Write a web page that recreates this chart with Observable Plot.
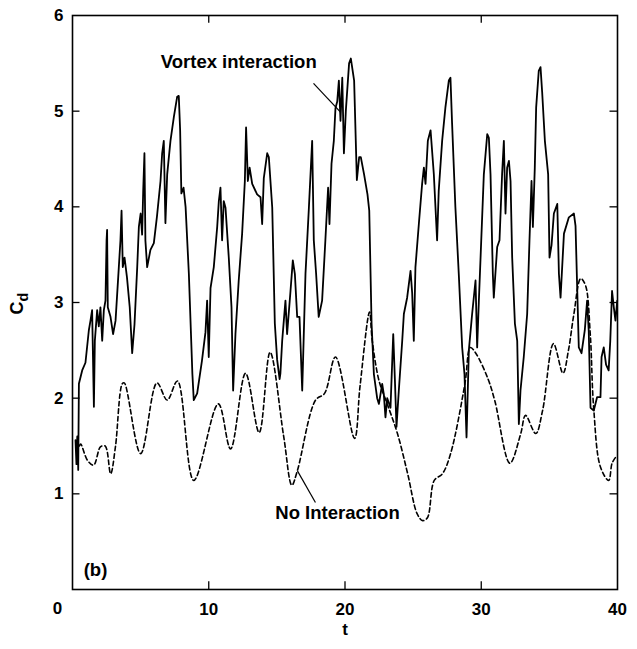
<!DOCTYPE html>
<html>
<head>
<meta charset="utf-8">
<script src="https://cdn.jsdelivr.net/npm/d3@7"></script>
<script src="https://cdn.jsdelivr.net/npm/@observablehq/plot@0.6"></script>
<style>
  html, body { margin: 0; padding: 0; background: #fff; }
  #chart svg { display: block; }
</style>
</head>
<body>
<div id="chart"></div>
<script>
// ---- Data ----
const vortexT = [0.22,0.29,0.35,0.39,0.42,0.47,0.71,0.95,1.2,1.32,1.44,1.57,1.64,1.81,1.93,2.05,2.18,2.3,2.42,2.5,2.54,2.59,2.79,2.98,3.16,3.4,3.52,3.6,3.69,3.82,4.0,4.2,4.38,4.55,4.75,4.87,5.0,5.11,5.19,5.28,5.35,5.48,5.72,5.97,6.2,6.46,6.58,6.7,6.82,6.95,7.19,7.44,7.68,7.8,7.9,7.99,8.15,8.3,8.54,8.8,8.9,9.15,9.5,9.76,9.88,10.0,10.13,10.37,10.62,10.74,10.86,10.98,11.1,11.23,11.47,11.67,11.79,11.96,12.2,12.45,12.65,12.74,12.87,13.0,13.19,13.55,13.8,13.92,14.04,14.29,14.41,14.66,14.85,15.02,15.2,15.26,15.39,15.51,15.63,15.75,16.0,16.17,16.32,16.49,16.66,16.86,17.1,17.35,17.59,17.71,17.88,18.07,18.32,18.56,18.76,18.86,19.01,19.18,19.3,19.43,19.55,19.67,19.8,19.92,20.06,20.3,20.43,20.67,20.87,21.04,21.16,21.4,21.65,21.78,21.95,22.12,22.36,22.49,22.73,22.85,22.97,23.1,23.34,23.54,23.66,23.78,23.95,24.2,24.32,24.56,24.81,24.93,25.05,25.17,25.42,25.66,25.79,25.91,26.08,26.28,26.52,26.76,26.88,27.13,27.37,27.62,27.74,27.86,28.1,28.35,28.6,28.77,28.92,29.09,29.33,29.58,29.7,29.82,29.95,30.19,30.44,30.56,30.68,30.85,30.92,31.17,31.34,31.53,31.66,31.78,31.9,32.03,32.15,32.27,32.47,32.64,32.76,32.88,33.12,33.37,33.54,33.69,33.79,33.93,34.03,34.22,34.35,34.47,34.67,34.91,35.01,35.16,35.33,35.58,35.7,35.82,36.07,36.43,36.8,36.92,37.04,37.16,37.36,37.6,37.77,37.89,38.02,38.26,38.5,38.75,38.83,38.99,39.16,39.35,39.47,39.6,39.73,39.85,39.98];
const vortexCd = [1.56,1.31,1.6,1.49,1.25,2.15,2.29,2.37,2.71,2.81,2.92,1.91,2.6,2.92,2.75,2.95,2.6,2.92,3.02,3.65,3.76,2.95,2.85,2.67,2.81,3.37,3.65,3.96,3.37,3.47,3.26,2.95,2.47,2.77,3.37,3.79,3.93,3.71,4.17,4.56,3.65,3.37,3.55,3.62,3.9,4.27,4.56,4.69,3.83,4.34,4.69,4.94,5.15,5.16,4.8,4.14,4.2,4.0,3.3,2.25,1.98,2.05,2.39,2.69,3.02,2.43,3.15,3.37,3.79,4.06,4.2,3.65,4.06,3.99,3.47,2.95,2.08,2.67,3.23,3.72,4.27,4.83,4.27,4.41,4.24,4.13,4.1,3.82,4.3,4.56,4.52,3.99,2.78,2.4,2.2,2.26,2.6,2.81,3.02,2.67,3.12,3.44,3.3,2.85,2.85,2.08,3.3,3.99,4.69,3.65,3.3,2.85,3.02,3.65,4.2,3.82,4.45,4.69,5.03,5.1,5.32,4.9,5.35,4.56,5.0,5.5,5.55,5.32,4.28,4.52,4.52,4.34,4.13,3.96,2.78,2.25,2.0,1.94,2.15,2.04,1.8,2.0,1.9,2.67,2.2,1.7,2.08,2.6,2.88,3.05,3.33,3.1,2.6,3.37,3.82,4.24,4.41,4.24,4.69,4.8,4.34,3.65,4.17,4.69,5.04,5.32,5.35,4.87,4.0,3.3,2.53,2.25,1.59,2.5,2.88,3.23,2.53,3.0,3.47,4.34,4.76,4.72,4.34,3.3,3.05,3.58,3.65,4.34,4.69,3.93,4.41,4.48,4.27,3.47,2.78,2.6,1.73,2.08,2.43,2.88,3.65,4.27,3.79,4.41,5.04,5.42,5.46,5.2,4.69,4.34,3.47,3.6,3.93,4.03,3.3,3.05,3.72,3.89,3.93,3.8,3.16,2.53,2.47,2.71,3.02,2.7,1.9,1.87,2.01,2.01,2.43,2.53,2.35,2.29,2.6,3.12,2.95,2.81,3.02];

const noIntT = [0.5,0.6,1.1,1.55,2.05,2.4,2.8,3.15,3.65,3.8,5.0,6.2,6.95,7.7,8.9,10.7,11.6,12.7,13.7,14.5,15.5,16.1,16.5,17.84,18.5,19.3,20.7,21.1,21.8,22.0,22.5,23.1,23.85,24.6,25.3,25.7,26.05,26.55,27.15,27.75,28.8,29.2,29.6,30.5,31.0,32.1,32.9,33.25,34.0,34.5,35.3,36.0,36.4,36.8,37.3,37.65,38.0,38.25,38.75,39.35,39.6,39.85];
const noIntCd = [1.5,1.52,1.35,1.3,1.49,1.5,1.21,1.49,2.15,2.16,1.42,2.16,1.98,2.18,1.14,1.94,1.47,2.26,1.64,2.48,1.6,1.09,1.24,1.98,2.05,2.43,1.58,2.12,2.9,2.6,2.18,1.94,1.63,1.21,0.79,0.72,0.75,1.14,1.21,1.42,2.15,2.53,2.47,2.2,1.97,1.32,1.63,1.82,1.63,1.87,2.57,2.26,2.5,2.88,3.25,3.18,2.67,1.9,1.28,1.14,1.32,1.38];

const xTickLabels = [10, 20, 30, 40];
const xOriginLabel = ["0"];
const yTickLabels = [1, 2, 3, 4, 5, 6];
const xTickMarks = [10, 20, 30];
const yTickMarks = [1, 2, 3, 4, 5];

const annotationText = ["Vortex interaction", "No Interaction", "(b)"];
const annotationT = [12.2, 19.45, 1.69];
const annotationCd = [5.51, 0.80, 0.20];

const leaderT1 = [17.69, 16.51];
const leaderCd1 = [5.29, 1.24];
const leaderT2 = [19.67, 17.83];
const leaderCd2 = [4.99, 0.91];

// ---- Tables ----
const vortex = vortexT.map((t, i) => ({t, cd: vortexCd[i]}));
const noInt = noIntT.map((t, i) => ({t, cd: noIntCd[i]}));
const annotations = annotationText.map((text, i) => ({text, t: annotationT[i], cd: annotationCd[i]}));
const leaders = leaderT1.map((t1, i) => ({t1, c1: leaderCd1[i], t2: leaderT2[i], c2: leaderCd2[i]}));

const font = "'Liberation Sans', Arial, Helvetica, sans-serif";

const svg = Plot.plot({
  width: 637,
  height: 649,
  marginLeft: 72,
  marginRight: 20,
  marginTop: 15,
  marginBottom: 60,
  style: {fontFamily: font, background: "#fff", color: "#000"},
  x: {domain: [0, 40]},
  y: {domain: [0, 6]},
  marks: [
    Plot.axisX(xTickLabels, {anchor: "bottom", tickSize: 0, tickPadding: 13, tickFormat: d => String(d), fontSize: 17, fontWeight: "bold", label: null}),
    Plot.text(xOriginLabel, {x: 0, y: 0, text: d => d, dx: -15, dy: 19, fontSize: 17, fontWeight: "bold"}),
    Plot.axisY(yTickLabels, {anchor: "left", tickSize: 0, tickPadding: 9, tickFormat: d => String(d), fontSize: 17, fontWeight: "bold", label: null}),
    Plot.text(["t"], {frameAnchor: "bottom", dy: 45, text: d => d, fontSize: 17, fontWeight: "bold"}),
    Plot.text(["C"], {frameAnchor: "left", dx: -55, dy: 12, rotate: -90, text: d => d, fontSize: 18, fontWeight: "bold"}),
    Plot.ruleX(xTickMarks, {x: d => d, y1: 0, y2: 0.08, strokeWidth: 1.3}),
    Plot.ruleX(xTickMarks, {x: d => d, y1: 6, y2: 5.92, strokeWidth: 1.3}),
    Plot.ruleY(yTickMarks, {y: d => d, x1: 0, x2: 0.55, strokeWidth: 1.3}),
    Plot.ruleY(yTickMarks, {y: d => d, x1: 40, x2: 39.45, strokeWidth: 1.3}),
    Plot.line(noInt, {x: "t", y: "cd", curve: "catmull-rom", stroke: "#000", strokeWidth: 1.6, strokeDasharray: "4.5,3"}),
    Plot.line(vortex, {x: "t", y: "cd", stroke: "#000", strokeWidth: 1.8, strokeLinejoin: "round"}),
    Plot.link(leaders, {x1: "t1", y1: "c1", x2: "t2", y2: "c2", stroke: "#000", strokeWidth: 1.2}),
    Plot.text(annotations, {x: "t", y: "cd", text: "text", fontSize: 18.5, fontWeight: "bold"}),
    Plot.frame({stroke: "#000", strokeWidth: 1.6})
  ]
});

d3.select(svg).selectAll("text")
  .filter(function() { return this.textContent === "C"; })
  .append("tspan")
  .attr("dy", "0.35em")
  .attr("font-size", "0.8em")
  .text("d");

document.getElementById("chart").appendChild(svg);
</script>
</body>
</html>
